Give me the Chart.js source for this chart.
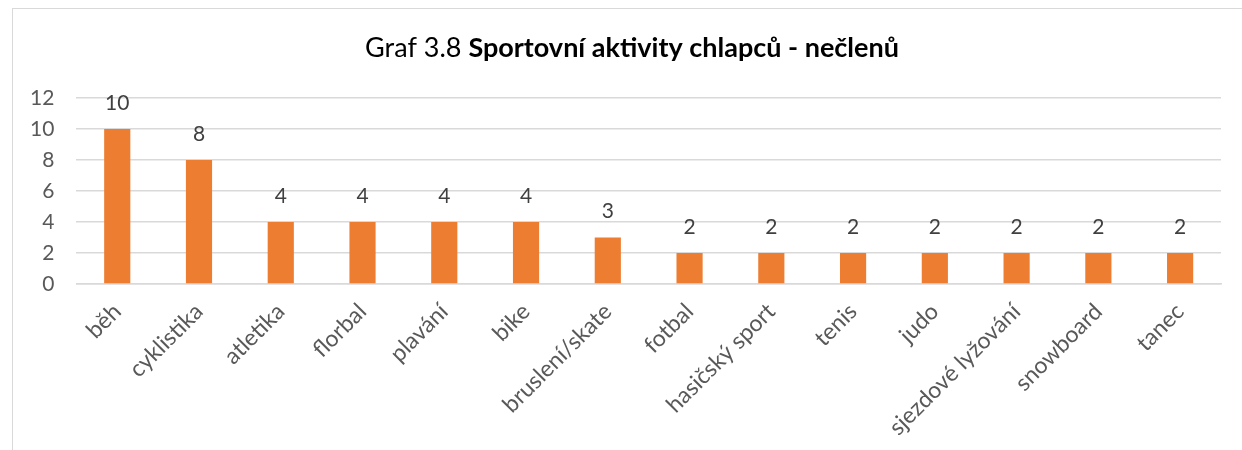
<!DOCTYPE html>
<html>
<head>
<meta charset="utf-8">
<script src="https://cdn.jsdelivr.net/npm/chart.js@4"></script>
<style>
  html, body { margin: 0; padding: 0; background: #fff; }
  #frame { position: absolute; left: 12px; top: 8px; width: 1240px; height: 450px; border: 1.5px solid #d9d9d9; box-sizing: border-box; }
  #wrap { position: absolute; left: 0; top: 0; width: 1242px; height: 450px; }
</style>
</head>
<body>
<div id="frame"></div>
<div id="wrap"><canvas id="graf"></canvas></div>
<script>
// data
const kategorie = ['běh', 'cyklistika', 'atletika', 'florbal', 'plavání', 'bike', 'bruslení/skate', 'fotbal', 'hasičský sport', 'tenis', 'judo', 'sjezdové lyžování', 'snowboard', 'tanec'];
const pocty = [10, 8, 4, 4, 4, 4, 3, 2, 2, 2, 2, 2, 2, 2];
const yTicks = [0, 2, 4, 6, 8, 10, 12];

const pismo = 'Lato, "Open Sans", sans-serif';

// titulek: normalni + tucna cast
const titulekPlugin = {
  id: 'titulek',
  afterDraw(chart) {
    const ctx = chart.ctx;
    const a = 'Graf 3.8 ', b = 'Sportovní aktivity chlapců - nečlenů';
    ctx.save();
    ctx.fillStyle = '#000';
    ctx.textBaseline = 'middle';
    ctx.font = '27px ' + pismo;
    const wa = ctx.measureText(a).width;
    ctx.font = 'bold 27px ' + pismo;
    const wb = ctx.measureText(b).width;
    const x0 = 632 - (wa + wb) / 2;
    ctx.textAlign = 'left';
    ctx.font = '27px ' + pismo;
    ctx.fillText(a, x0, 48);
    ctx.font = 'bold 27px ' + pismo;
    ctx.fillText(b, x0 + wa, 48);
    ctx.restore();
  }
};

// hodnoty nad sloupci
const popiskyPlugin = {
  id: 'popisky',
  afterDatasetsDraw(chart) {
    const ctx = chart.ctx;
    const meta = chart.getDatasetMeta(0);
    ctx.save();
    ctx.fillStyle = '#404040';
    ctx.font = '21px ' + pismo;
    ctx.textAlign = 'center';
    ctx.textBaseline = 'middle';
    meta.data.forEach(function (bar, i) {
      ctx.fillText(String(pocty[i]), bar.x, bar.y - 26);
    });
    ctx.restore();
  }
};

new Chart(document.getElementById('graf').getContext('2d'), {
  type: 'bar',
  data: {
    labels: kategorie,
    datasets: [{
      data: pocty,
      backgroundColor: '#ED7D31',
      categoryPercentage: 1,
      barPercentage: 0.32,
    }],
  },
  options: {
    responsive: true,
    maintainAspectRatio: false,
    animation: false,
    layout: { padding: { top: 98, left: 8, right: 21, bottom: 3 } },
    plugins: {
      legend: { display: false },
      tooltip: { enabled: false },
    },
    scales: {
      x: {
        grid: { display: false },
        border: { color: '#d9d9d9', width: 1.5 },
        ticks: {
          color: '#595959',
          font: { family: pismo, size: 23 },
          minRotation: 45,
          maxRotation: 45,
          padding: 6,
        },
      },
      y: {
        min: 0,
        max: 12,
        afterBuildTicks(axis) { axis.ticks = yTicks.map(v => ({ value: v })); },
        grid: { color: '#d9d9d9', lineWidth: 1.5, drawTicks: false },
        border: { display: false },
        ticks: {
          color: '#595959',
          font: { family: pismo, size: 21 },
          padding: 22,
        },
      },
    },
  },
  plugins: [titulekPlugin, popiskyPlugin],
});
</script>
</body>
</html>
